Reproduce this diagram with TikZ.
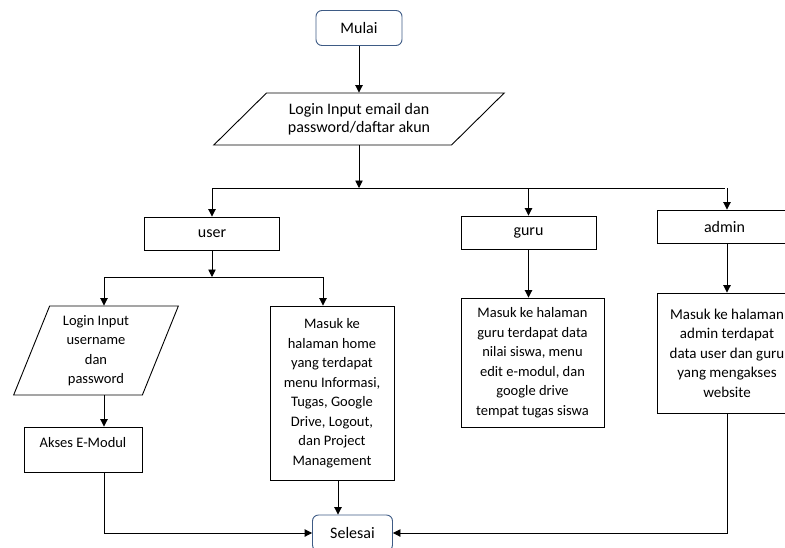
\documentclass[tikz,border=0pt]{standalone}
\usepackage{fontspec}
\setmainfont{Carlito}
\usetikzlibrary{arrows.meta,positioning,shapes.geometric}
\definecolor{termblue}{HTML}{3E5B85}

\begin{document}
\begin{tikzpicture}[x=1pt,y=-1pt,>={Triangle[length=7.5pt,width=7.5pt]},line width=0.9pt,node distance=90pt,on grid,
    every node/.style={font=\fontsize{14.5pt}{19.5pt}\selectfont,align=center,inner sep=2pt},
    big/.style={font=\fontsize{16pt}{18.5pt}\selectfont},
    terminal/.style={draw=termblue,big,rounded corners=6pt,minimum height=35pt},
    process/.style={draw,minimum width=135pt,minimum height=33pt},
    inout/.style={draw,trapezium,trapezium stretches=true}]
        \useasboundingbox (0,0) rectangle (785,547);
        \node[terminal,minimum width=86pt] (mulai) at (359,28) {Mulai};
        \node[inout,big,trapezium left angle=41,trapezium right angle=139,minimum width=291pt,minimum height=52pt,below=91pt of mulai] (login) {Login Input email dan\\password/daftar akun};
        \coordinate[below=69pt of login] (bagi);
        \node[process,big] (user) at (212,233.5) {user};
        \node[process,big] (guru) at (528.5,232.5) {guru};
        \node[process,big] (admin) at (724.5,226.5) {admin};
        % cabang user
        \coordinate (kiri) at (104,277);
        \coordinate (kanan) at (323,277);
        \node[inout,trapezium left angle=70,trapezium right angle=110,minimum width=165pt,minimum height=89pt] (inuser) at (96,350.5) {Login Input\\username\\dan\\password};
        \node[process,minimum width=118pt,minimum height=45pt,text depth=15pt] (akses) at (83,449.5) {Akses E-Modul};
        \node[process,minimum width=124pt,minimum height=174pt] (home) at (332,393) {Masuk ke\\halaman home\\yang terdapat\\menu Informasi,\\Tugas, Google\\Drive, Logout,\\dan Project\\Management};
        % cabang guru dan admin
        \node[process,minimum width=143pt,minimum height=129pt] (gurutxt) at (532.5,362.5) {Masuk ke halaman\\guru terdapat data\\nilai siswa, menu\\edit e-modul, dan\\google drive\\tempat tugas siswa};
        \node[process,font=\fontsize{15pt}{19.5pt}\selectfont,minimum width=140pt,minimum height=120pt] (admintxt) at (727,353) {Masuk ke halaman\\admin terdapat\\data user dan guru\\yang mengakses\\website};
        \node[terminal,minimum width=80pt,minimum height=36pt] (selesai) at (352.5,533) {Selesai};

        \draw[->] (mulai) -- (login);
        \draw[->] (login) -- (bagi);
        \draw (user.north |- bagi) -- (admin.north |- bagi);
        \foreach \n in {user,guru} \draw[->] (\n.north |- bagi) -- (\n.north);
        \draw[->] (admintxt.north |- bagi) -- (admintxt.north |- admin.north);
        \draw[->] (user.south) -- (user.south |- kanan);
        \draw (kiri) -- (kanan);
        \draw[->] (kiri) -- (kiri |- inuser.north);
        \draw[->] (kanan) -- (kanan |- home.north);
        \draw[->] (kiri |- inuser.south) -- (kiri |- akses.north);
        \draw[->] (kiri |- akses.south) |- (selesai);
        \draw[->] ([xshift=6pt]home.south) -- ([xshift=6pt]home.south |- selesai.north);
        \draw[->] (guru.south) -- (guru.south |- gurutxt.north);
        \draw[->] (admintxt.north |- admin.south) -- (admintxt.north);
        \draw[->] (admintxt.south) |- (selesai);
\end{tikzpicture}
\end{document}
